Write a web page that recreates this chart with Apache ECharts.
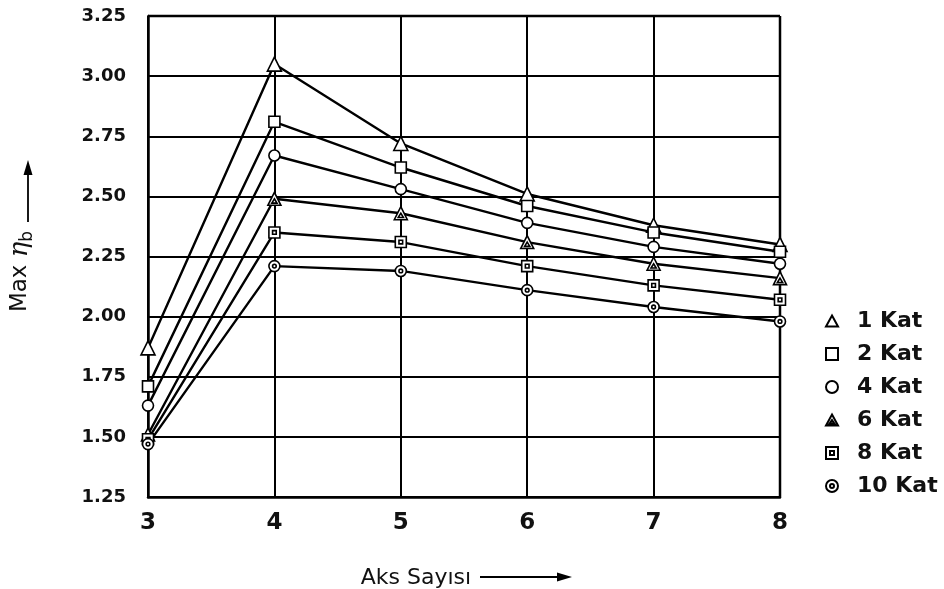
<!DOCTYPE html>
<html>
<head>
<meta charset="utf-8">
<script src="https://cdn.jsdelivr.net/npm/echarts@6/dist/echarts.min.js"></script>
<style>
html,body{margin:0;padding:0;background:#fff;}
#main{width:944px;height:589px;}
</style>
</head>
<body>
<div id="main"></div>
<script>
// aks sayisi (x)
const aksSayisi = [3, 4, 5, 6, 7, 8];
const katNames = ['1 Kat', '2 Kat', '4 Kat', '6 Kat', '8 Kat', '10 Kat'];
// max eta_b degerleri
const kat1 = [1.87, 3.05, 2.72, 2.51, 2.38, 2.30];
const kat2 = [1.71, 2.81, 2.62, 2.46, 2.35, 2.27];
const kat4 = [1.63, 2.67, 2.53, 2.39, 2.29, 2.22];
const kat6 = [1.51, 2.49, 2.43, 2.31, 2.22, 2.16];
const kat8 = [1.49, 2.35, 2.31, 2.21, 2.13, 2.07];
const kat10 = [1.47, 2.21, 2.19, 2.11, 2.04, 1.98];
const yTicks = [1.25, 1.50, 1.75, 2.00, 2.25, 2.50, 2.75, 3.00, 3.25];

const allData = [kat1, kat2, kat4, kat6, kat8, kat10];

// semboller
const TRI = 'path://M0,-10L10,8L-10,8Z';
const SQ = 'path://M-9,-9L9,-9L9,9L-9,9Z';
const CIR = 'circle';
const TRI_D = 'path://M0,-10L10,8L-10,8Z M0,-1L4,5L-4,5Z';
const SQ_D = 'path://M-9,-9L9,-9L9,9L-9,9Z M-3,-3L3,-3L3,3L-3,3Z';
const CIR_D = 'path://M0,-9A9,9 0 1,1 0,9A9,9 0 1,1 0,-9Z M0,-3A3,3 0 1,1 0,3A3,3 0 1,1 0,-3Z';
const symbols = [TRI, SQ, CIR, TRI_D, SQ_D, CIR_D];
const sizes = [14, 11, 11, 13, 11, 11];

const myChart = echarts.init(document.getElementById('main'));

const series = allData.map(function (d, i) {
    return {
        name: katNames[i],
        type: 'line',
        data: aksSayisi.map(function (x, j) { return [x, d[j]]; }),
        symbol: symbols[i],
        symbolSize: sizes[i],
        showAllSymbol: true,
        z: 3,
        lineStyle: { color: '#000', width: 2.4 },
        itemStyle: { color: '#fff', borderColor: '#000', borderWidth: 1.6 },
        emphasis: { disabled: true }
    };
});

const option = {
    animation: false,
    backgroundColor: '#fff',
    grid: { left: 148, right: 164, top: 16, bottom: 92, containLabel: false, outerBoundsMode: 'none' },
    legend: {
        orient: 'vertical',
        left: 820,
        top: 305,
        itemWidth: 12,
        itemHeight: 12,
        itemGap: 11,
        data: katNames.map(function (n, i) { return { name: n, icon: symbols[i] }; }),
        textStyle: { fontFamily: 'DejaVu Sans', fontSize: 22, fontWeight: 'bold', color: '#111', lineHeight: 22, padding: [0, 0, 0, 14] },
        selectedMode: false
    },
    xAxis: {
        type: 'value',
        min: 3,
        max: 8,
        interval: 1,
        axisLine: { show: true, lineStyle: { color: '#000', width: 2.5 } },
        axisTick: { show: false },
        axisLabel: { margin: 15, fontFamily: 'DejaVu Sans', fontSize: 23, fontWeight: 'bold', color: '#111' },
        splitLine: { show: true, lineStyle: { color: '#000', width: 2 } },
        name: 'Aks Sayısı',
        nameLocation: 'middle',
        nameGap: 70,
        nameTextStyle: { fontFamily: 'DejaVu Sans', fontSize: 22, color: '#111', padding: [0, 96, 0, 0] }
    },
    yAxis: {
        type: 'value',
        min: 1.25,
        max: 3.25,
        interval: 0.25,
        axisLine: { show: true, lineStyle: { color: '#000', width: 2.5 } },
        axisTick: { show: false },
        axisLabel: {
            margin: 22,
            fontFamily: 'DejaVu Sans', fontSize: 18, fontWeight: 'bold', color: '#111',
            formatter: function (v) { return yTicks.indexOf(v) >= 0 ? v.toFixed(2) : ''; }
        },
        splitLine: { show: true, lineStyle: { color: '#000', width: 2 } },
        name: 'Max {eta|η}{sub|b}',
        nameLocation: 'middle',
        nameGap: 112,
        nameRotate: 90,
        nameTextStyle: {
            fontFamily: 'DejaVu Sans', fontSize: 23, color: '#111', padding: [0, 0, 0, -30],
            rich: {
                eta: { fontFamily: 'DejaVu Serif', fontStyle: 'italic', fontSize: 26, color: '#111' },
                sub: { fontFamily: 'DejaVu Sans', fontSize: 17, color: '#111', verticalAlign: 'bottom', padding: [14, 0, 0, 0] }
            }
        }
    },
    graphic: [
        // cerceve ust ve sag
        { type: 'line', shape: { x1: 148, y1: 16, x2: 780, y2: 16 }, style: { stroke: '#000', lineWidth: 2.5 }, z: 2 },
        { type: 'line', shape: { x1: 780, y1: 16, x2: 780, y2: 497 }, style: { stroke: '#000', lineWidth: 2.5 }, z: 2 },
        // x ekseni oku
        { type: 'line', shape: { x1: 480, y1: 577, x2: 562, y2: 577 }, style: { stroke: '#000', lineWidth: 1.8 } },
        { type: 'polygon', shape: { points: [[572, 577], [557, 572.5], [557, 581.5]] }, style: { fill: '#000' } },
        // y ekseni oku
        { type: 'line', shape: { x1: 28, y1: 222, x2: 28, y2: 170 }, style: { stroke: '#000', lineWidth: 1.8 } },
        { type: 'polygon', shape: { points: [[28, 160], [23.5, 175], [32.5, 175]] }, style: { fill: '#000' } }
    ],
    series: series
};
myChart.setOption(option);
</script>
</body>
</html>
